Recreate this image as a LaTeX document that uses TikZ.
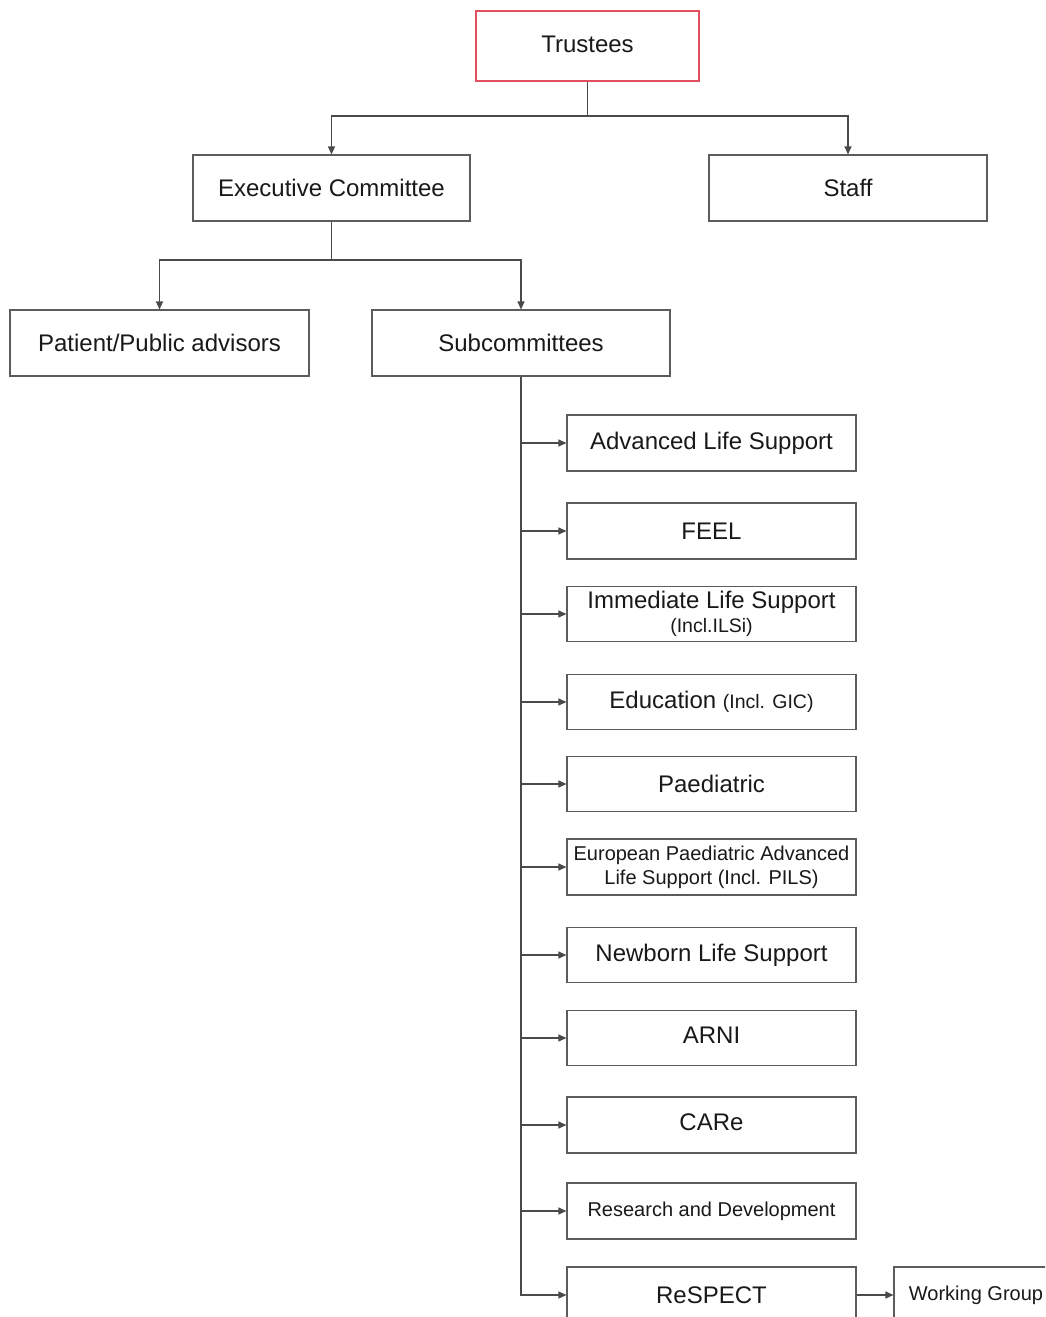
\documentclass[tikz,border=0pt]{standalone}
\usepackage{fontspec}
\setmainfont{Liberation Sans}
\usetikzlibrary{arrows.meta}
\definecolor{ln}{HTML}{4A4A4A}
\definecolor{bx}{HTML}{5C5C5C}
\definecolor{rd}{HTML}{E0505E}
\begin{document}
\begin{tikzpicture}[x=1pt,y=-1pt,
  box/.style={draw=bx,line width=1.1pt,fill=white,inner sep=0pt,align=center,font=\fontsize{24}{28}\selectfont,text=black!90},
  sub/.style={box,minimum width=289pt,minimum height=56pt},
  conn/.style={draw=ln,line width=1.1pt},
  arr/.style={conn,-{Triangle[length=8pt,width=7pt]}},
  sm/.style={font=\fontsize{20}{24}\selectfont}]
\clip (0,0) rectangle (1045,1317);
\fill[white] (0,0) rectangle (1045,1317);
\node[box,draw=rd,minimum width=223pt,minimum height=70pt] (tr) at (587.5,46) {\raisebox{3pt}{Trustees}};
\node[box,minimum width=277pt,minimum height=66pt] (ex) at (331.5,188) {Executive Committee};
\node[box,minimum width=278pt,minimum height=66pt] (st) at (848,188) {Staff};
\node[box,minimum width=299pt,minimum height=66pt] (pp) at (159.5,343) {Patient/Public advisors};
\node[box,minimum width=298pt,minimum height=66pt] (sc) at (521,343) {Subcommittees};
\node[sub] (als) at (711.5,443) {Advanced Life Support};
\node[sub] (feel) at (711.5,531) {FEEL};
\node[sub,minimum height=55pt] (ils) at (711.5,614) {Immediate Life Support\\[-4pt]{\fontsize{19.5}{22}\selectfont (Incl.ILSi)}};
\node[sub,minimum height=55pt] (edu) at (711.5,702) {Education {\fontsize{19.5}{22}\selectfont (Incl. GIC)}};
\node[sub,minimum height=55pt] (pae) at (711.5,784) {Paediatric};
\node[sub,sm] (ep) at (711.5,867) {European Paediatric Advanced\\Life Support (Incl. PILS)};
\node[sub,minimum height=55pt] (nls) at (711.5,955) {Newborn Life Support};
\node[sub,minimum height=55pt] (arni) at (711.5,1038) {ARNI\strut\vphantom{g}};
\node[sub] (care) at (711.5,1125) {CARe\vphantom{g}};
\node[sub,sm] (rd) at (711.5,1211) {Research and Development};
\node[sub] (re) at (711.5,1295) {ReSPECT};
\node[box,sm,minimum width=164pt,minimum height=56pt] (wg) at (976,1295) {Working Group};
\coordinate (j1) at (587.5,116);
\coordinate (j2) at (331.5,260);
\draw[conn] (tr) -- (j1);
\draw[arr] (j1) -| (ex);
\draw[arr] (j1) -| (st);
\draw[conn] (ex) -- (j2);
\draw[arr] (j2) -| (pp);
\draw[arr] (j2) -| (sc);
\foreach \n in {als,feel,ils,edu,pae,ep,nls,arni,care,rd,re}
  \draw[arr] (sc.south) |- (\n);
\draw[arr] (re) -- (wg);
\end{tikzpicture}
\end{document}
